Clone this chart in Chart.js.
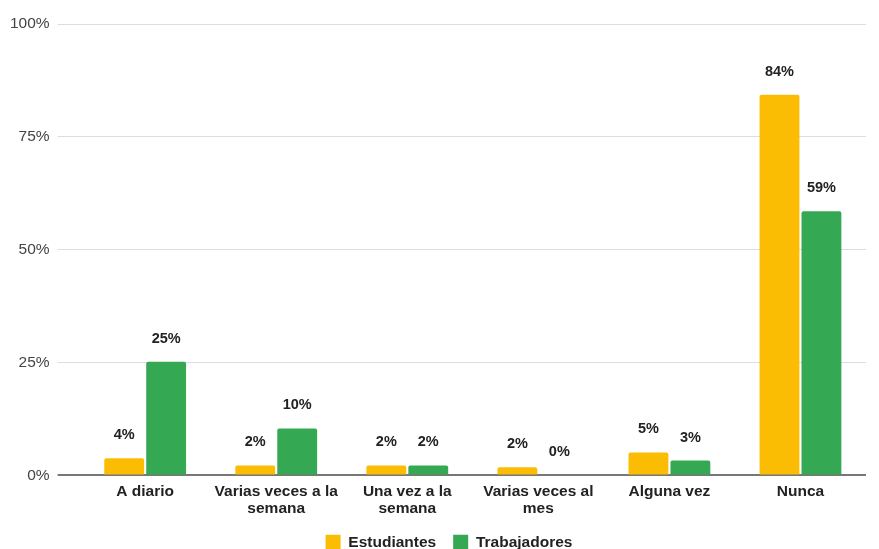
<!DOCTYPE html>
<html>
<head>
<meta charset="utf-8">
<script src="https://cdn.jsdelivr.net/npm/chart.js@4/dist/chart.umd.min.js"></script>
<style>
html,body{margin:0;padding:0;background:#fff;}
#wrap{width:879px;height:549px;position:relative;}
</style>
</head>
<body>
<div id="wrap"><canvas id="c" width="879" height="549"></canvas></div>
<script>
const categories = [
  'A diario',
  ['Varias veces a la', 'semana'],
  ['Una vez a la', 'semana'],
  ['Varias veces al', 'mes'],
  'Alguna vez',
  'Nunca'
];
const estudiantes = [3.8, 2.2, 2.2, 1.8, 5.1, 84.3];
const trabajadores = [25.2, 10.4, 2.2, 0, 3.3, 58.5];
const yTicks = [0, 25, 50, 75, 100];

const FONT = "'Liberation Sans', Arial, sans-serif";

const labelPlugin = {
  id: 'barLabels',
  afterLayout(chart) {
    // nudge legend block to the right, like the reference
    if (chart.legend) chart.legend.left += 30;
  },
  afterDatasetsDraw(chart) {
    const ctx = chart.ctx;
    ctx.save();
    ctx.font = 'bold 14.5px ' + FONT;
    ctx.fillStyle = '#222222';
    ctx.textAlign = 'center';
    ctx.textBaseline = 'middle';
    chart.data.datasets.forEach((ds, i) => {
      const meta = chart.getDatasetMeta(i);
      meta.data.forEach((bar, j) => {
        ctx.fillText(Math.round(ds.data[j]) + '%', bar.x, bar.y - 23);
      });
    });
    ctx.restore();
  }
};

new Chart(document.getElementById('c'), {
  type: 'bar',
  data: {
    labels: categories,
    datasets: [
      { label: 'Estudiantes', data: estudiantes, backgroundColor: '#FBBC04', borderRadius: {topLeft: 2, topRight: 2}, borderSkipped: 'bottom' },
      { label: 'Trabajadores', data: trabajadores, backgroundColor: '#34A853', borderRadius: {topLeft: 2, topRight: 2}, borderSkipped: 'bottom' }
    ]
  },
  options: {
    responsive: false,
    animation: false,
    devicePixelRatio: 1,
    layout: { padding: { top: 24, right: 13, left: 2, bottom: -11 } },
    datasets: { bar: { categoryPercentage: 0.64, barPercentage: 0.95 } },
    scales: {
      x: {
        grid: { display: false },
        border: { display: false },
        ticks: {
          color: '#222222',
          font: { family: FONT, size: 15.5, weight: 'bold', lineHeight: 1.1 },
          maxRotation: 0, autoSkip: false, padding: 0
        }
      },
      y: {
        min: 0, max: 100,
        afterBuildTicks(scale) { scale.ticks = yTicks.map(v => ({ value: v })); },
        grid: {
          color: ctx => ctx.tick && ctx.tick.value === 0 ? '#777777' : '#dddddd',
          tickColor: ctx => ctx.tick && ctx.tick.value === 0 ? '#777777' : '#dddddd',
          lineWidth: ctx => ctx.tick && ctx.tick.value === 0 ? 2 : 1,
          tickLength: 22
        },
        border: { display: false },
        ticks: {
          color: '#444444',
          font: { family: FONT, size: 15.5 },
          padding: 8,
          callback: v => v + '%'
        }
      }
    },
    plugins: {
      legend: {
        position: 'bottom',
        labels: {
          boxWidth: 15, boxHeight: 15, padding: 17,
          color: '#222222',
          font: { family: FONT, size: 15.5, weight: 'bold' }
        }
      },
      tooltip: { enabled: false }
    }
  },
  plugins: [labelPlugin]
});
</script>
</body>
</html>
